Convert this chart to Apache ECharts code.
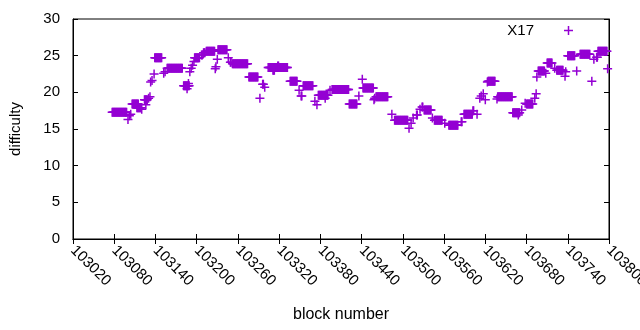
<!DOCTYPE html>
<html style="height: 100%">
<head>
	<meta charset="utf-8">
</head>
<body style="height: 100%; margin: 0; background-color: #fff;">
<div id="container" style="width: 640px; height: 330px"></div>
<script type="text/javascript" src="https://cdn.jsdelivr.net/npm/echarts@6/dist/echarts.min.js"></script>
<script type="text/javascript">
	// runs of consecutive blocks with the same difficulty: [first block, last block, difficulty]
	var runs = [
		[103077, 103098, 17.3], [103100, 103100, 16.3], [103102, 103102, 16.8], [103104, 103104, 17.0],
		[103106, 103115, 18.4], [103113, 103119, 17.9], [103120, 103120, 17.7], [103124, 103128, 19.0],
		[103126, 103126, 18.3], [103130, 103130, 19.2], [103132, 103132, 19.4], [103133, 103133, 21.4],
		[103135, 103135, 21.6], [103138, 103138, 22.5], [103139, 103149, 24.7], [103152, 103152, 22.6],
		[103154, 103154, 22.8], [103157, 103179, 23.3], [103181, 103189, 20.9], [103186, 103186, 20.5],
		[103188, 103188, 21.2], [103190, 103190, 22.8], [103192, 103192, 23.3], [103194, 103194, 23.7],
		[103196, 103196, 24.2], [103197, 103204, 24.7], [103207, 103208, 25.1], [103210, 103212, 25.4],
		[103214, 103226, 25.6], [103227, 103227, 23.2], [103228, 103228, 23.5], [103230, 103230, 24.5],
		[103231, 103244, 25.8], [103246, 103246, 24.7], [103249, 103250, 24.1], [103252, 103274, 23.9],
		[103276, 103289, 22.1], [103292, 103292, 19.2], [103296, 103297, 21.1], [103299, 103299, 20.7],
		[103304, 103332, 23.4], [103311, 103313, 23.0], [103318, 103319, 23.6], [103336, 103346, 21.5],
		[103349, 103349, 20.3], [103352, 103353, 19.5], [103355, 103369, 20.9], [103372, 103372, 18.8],
		[103375, 103375, 18.3], [103377, 103391, 19.6], [103387, 103387, 19.2], [103394, 103394, 20.3],
		[103397, 103421, 20.4], [103422, 103433, 18.4], [103436, 103436, 19.5], [103441, 103441, 21.8],
		[103442, 103457, 20.6], [103458, 103458, 19.0], [103459, 103459, 19.2], [103461, 103478, 19.4],
		[103484, 103484, 17.0], [103488, 103507, 16.2], [103509, 103509, 15.1], [103512, 103512, 15.8],
		[103515, 103515, 16.5], [103520, 103521, 16.9], [103525, 103525, 17.7], [103528, 103529, 18.0],
		[103531, 103541, 17.6], [103543, 103543, 16.5], [103546, 103557, 16.2], [103561, 103561, 15.8],
		[103567, 103580, 15.5], [103585, 103586, 16.0], [103589, 103601, 17.0], [103602, 103603, 17.5],
		[103608, 103608, 17.0], [103612, 103612, 19.2], [103614, 103614, 19.5], [103617, 103617, 19.8],
		[103620, 103620, 19.0], [103623, 103623, 21.4], [103624, 103634, 21.5], [103637, 103637, 19.1],
		[103638, 103659, 19.4], [103660, 103670, 17.2], [103668, 103668, 16.9], [103673, 103673, 17.6],
		[103678, 103678, 18.5], [103680, 103689, 18.4], [103692, 103692, 19.2], [103694, 103694, 19.8],
		[103695, 103695, 22.1], [103697, 103706, 22.9], [103708, 103708, 22.6], [103710, 103717, 24.0],
		[103721, 103721, 23.3], [103724, 103733, 23.0], [103736, 103736, 22.2], [103737, 103737, 22.8],
		[103740, 103750, 25.0], [103753, 103753, 22.9], [103758, 103772, 25.2], [103775, 103775, 21.5],
		[103778, 103778, 24.5], [103782, 103783, 24.8], [103784, 103797, 25.6], [103798, 103798, 23.2]
	];
	var seriesName = 'X17';
	var xMin = 103020, xMax = 103800, xStep = 60;
	var yMin = 0, yMax = 30, yStep = 5;

	var points = [];
	runs.forEach(function(r) {
		for (var b = r[0]; b <= r[1]; b++) {
			points.push([b, r[2]]);
		}
	});

	var plus = 'path://M0,3.75H3.75V0H5.25V3.75H9V5.25H5.25V9H3.75V5.25H0Z';
	var font = 'Liberation Sans';

	var dom = document.getElementById("container");
	var myChart = echarts.init(dom);
	var tickStyle = { show: true, inside: true, length: 5, lineStyle: { color: '#000', width: 1 } };
	var option = {
		animation: false,
		textStyle: { fontFamily: font },
		grid: {
			left: 73, right: 31, top: 19, bottom: 91,
			containLabel: false, outerBoundsMode: 'none',
			show: true, borderColor: '#000', borderWidth: 1, backgroundColor: 'transparent'
		},
		legend: {
			right: 67, top: 23, padding: 0, align: 'right',
			icon: plus, itemWidth: 9, itemHeight: 9,
			textStyle: { fontFamily: font, fontSize: 15, color: '#000', padding: [0, 25, 0, 0] },
			data: [seriesName]
		},
		xAxis: [{
			type: 'value', min: xMin, max: xMax, interval: xStep,
			name: 'block number', nameLocation: 'middle', nameGap: 68,
			nameTextStyle: { fontFamily: font, fontSize: 16, color: '#000' },
			axisLine: { show: true, lineStyle: { color: '#000' } },
			axisTick: tickStyle,
			splitLine: { show: false },
			axisLabel: {
				rotate: -45, margin: 9, fontFamily: font, fontSize: 15, color: '#000',
				showMaxLabel: true, showMinLabel: true,
				formatter: function(v) { return String(v); }
			}
		}, {
			type: 'value', position: 'top', min: xMin, max: xMax, interval: xStep,
			axisLine: { show: true, lineStyle: { color: '#000' } },
			axisTick: tickStyle, axisLabel: { show: false }, splitLine: { show: false }
		}],
		yAxis: [{
			type: 'value', min: yMin, max: yMax, interval: yStep,
			name: 'difficulty', nameLocation: 'middle', nameGap: 50,
			nameTextStyle: { fontFamily: font, fontSize: 15, color: '#000' },
			axisLine: { show: true, lineStyle: { color: '#000' } },
			axisTick: tickStyle,
			splitLine: { show: false },
			axisLabel: { margin: 13, fontFamily: font, fontSize: 15, color: '#000' }
		}, {
			type: 'value', position: 'right', min: yMin, max: yMax, interval: yStep,
			axisLine: { show: true, lineStyle: { color: '#000' } },
			axisTick: tickStyle, axisLabel: { show: false }, splitLine: { show: false }
		}],
		series: [{
			name: seriesName,
			type: 'scatter',
			symbol: plus,
			symbolSize: 9,
			itemStyle: { color: '#9400d3', opacity: 1 },
			data: points
		}]
	};
	myChart.setOption(option);
</script>
</body>
</html>
